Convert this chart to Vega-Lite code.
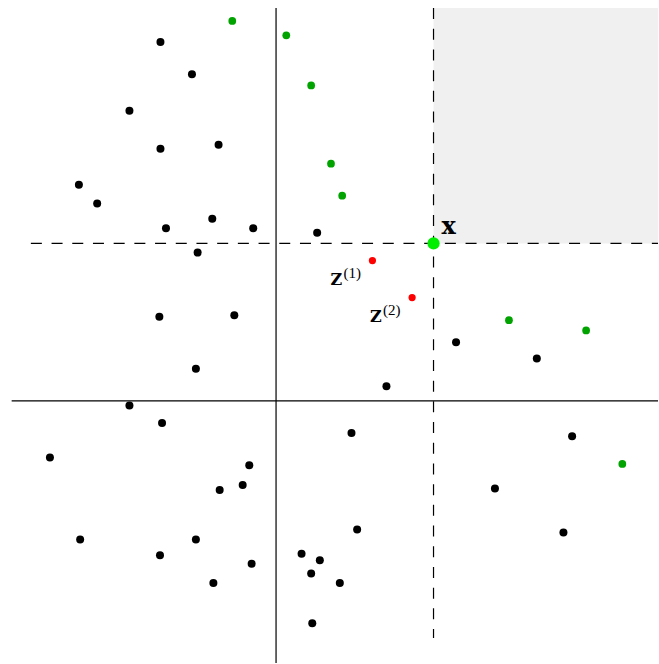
{
  "$schema": "https://vega.github.io/schema/vega-lite/v6.json",
  "autosize": {"type": "fit", "contains": "padding"},
  "width": 659,
  "height": 664,
  "padding": 0,
  "background": "white",
  "config": {"view": {"stroke": null}},
  "datasets": {
    "pts": [
      {"u": -0.734, "v": 2.280, "g": "other"},
      {"u": -0.534, "v": 2.075, "g": "other"},
      {"u": -0.931, "v": 1.842, "g": "other"},
      {"u": -0.734, "v": 1.601, "g": "other"},
      {"u": -0.365, "v": 1.626, "g": "other"},
      {"u": -1.252, "v": 1.373, "g": "other"},
      {"u": -1.136, "v": 1.254, "g": "other"},
      {"u": -0.699, "v": 1.096, "g": "other"},
      {"u": -0.405, "v": 1.157, "g": "other"},
      {"u": -0.145, "v": 1.096, "g": "other"},
      {"u": 0.261, "v": 1.067, "g": "other"},
      {"u": -0.498, "v": 0.942, "g": "other"},
      {"u": -0.741, "v": 0.534, "g": "other"},
      {"u": -0.265, "v": 0.544, "g": "other"},
      {"u": -0.509, "v": 0.204, "g": "other"},
      {"u": -0.931, "v": -0.030, "g": "other"},
      {"u": -0.724, "v": -0.141, "g": "other"},
      {"u": -1.436, "v": -0.360, "g": "other"},
      {"u": -0.170, "v": -0.409, "g": "other"},
      {"u": -0.212, "v": -0.534, "g": "other"},
      {"u": -0.358, "v": -0.566, "g": "other"},
      {"u": -1.244, "v": -0.880, "g": "other"},
      {"u": -0.509, "v": -0.880, "g": "other"},
      {"u": -0.737, "v": -0.980, "g": "other"},
      {"u": -0.155, "v": -1.035, "g": "other"},
      {"u": -0.398, "v": -1.157, "g": "other"},
      {"u": 0.162, "v": -0.971, "g": "other"},
      {"u": 0.278, "v": -1.013, "g": "other"},
      {"u": 0.223, "v": -1.096, "g": "other"},
      {"u": 0.230, "v": -1.413, "g": "other"},
      {"u": 1.143, "v": 0.373, "g": "other"},
      {"u": 1.656, "v": 0.269, "g": "other"},
      {"u": 0.701, "v": 0.092, "g": "other"},
      {"u": 0.479, "v": -0.204, "g": "other"},
      {"u": 1.880, "v": -0.225, "g": "other"},
      {"u": 1.390, "v": -0.557, "g": "other"},
      {"u": 0.515, "v": -0.817, "g": "other"},
      {"u": 1.825, "v": -0.836, "g": "other"},
      {"u": 0.405, "v": -1.157, "g": "other"},
      {"u": -0.278, "v": 2.413, "g": "dominating"},
      {"u": 0.065, "v": 2.322, "g": "dominating"},
      {"u": 0.223, "v": 2.003, "g": "dominating"},
      {"u": 0.349, "v": 1.506, "g": "dominating"},
      {"u": 0.420, "v": 1.303, "g": "dominating"},
      {"u": 1.479, "v": 0.512, "g": "dominating"},
      {"u": 1.969, "v": 0.447, "g": "dominating"},
      {"u": 2.199, "v": -0.401, "g": "dominating"},
      {"u": 0.612, "v": 0.891, "g": "z", "label": "Z", "sup": "(1)"},
      {"u": 0.864, "v": 0.656, "g": "z", "label": "Z", "sup": "(2)"},
      {"u": 1.0, "v": 1.0, "g": "x", "label": "x"}
    ],
    "lines": [
      {"u": 0, "u2": 0, "v": 2.495, "v2": -1.665, "style": "solid"},
      {"u": -1.679, "u2": 2.4255, "v": 0, "v2": 0, "style": "solid"},
      {"u": 1, "u2": 1, "v": 2.495, "v2": -1.506, "style": "dashed"},
      {"u": -1.557, "u2": 2.4255, "v": 1, "v2": 1, "style": "dashed"}
    ],
    "region": [
      {"u": 1, "u2": 2.4255, "v": 1, "v2": 2.495}
    ]
  },
  "encoding": {
    "x": {"field": "u", "type": "quantitative", "axis": null, "scale": {"domain": [-1.753, 2.4255], "nice": false, "zero": false}},
    "y": {"field": "v", "type": "quantitative", "axis": null, "scale": {"domain": [-1.665, 2.546], "nice": false, "zero": false}}
  },
  "layer": [
    {
      "data": {"name": "region"},
      "mark": {"type": "rect", "color": "#f0f0f0"},
      "encoding": {"x2": {"field": "u2"}, "y2": {"field": "v2"}}
    },
    {
      "data": {"name": "lines"},
      "transform": [{"filter": "datum.style === 'solid'"}],
      "mark": {"type": "rule", "color": "#000000", "strokeWidth": 1.2},
      "encoding": {"x2": {"field": "u2"}, "y2": {"field": "v2"}}
    },
    {
      "data": {"name": "lines"},
      "transform": [{"filter": "datum.style === 'dashed'"}],
      "mark": {"type": "rule", "color": "#000000", "strokeWidth": 1.2, "strokeDash": [11, 9.7]},
      "encoding": {"x2": {"field": "u2"}, "y2": {"field": "v2"}}
    },
    {
      "data": {"name": "pts"},
      "transform": [{"filter": "datum.g === 'other'"}],
      "mark": {"type": "circle", "color": "#000000", "opacity": 1, "size": 64}
    },
    {
      "data": {"name": "pts"},
      "transform": [{"filter": "datum.g === 'dominating'"}],
      "mark": {"type": "circle", "color": "#00a300", "opacity": 1, "size": 60}
    },
    {
      "data": {"name": "pts"},
      "transform": [{"filter": "datum.g === 'z'"}],
      "mark": {"type": "circle", "color": "#ff0000", "opacity": 1, "size": 52}
    },
    {
      "data": {"name": "pts"},
      "transform": [{"filter": "datum.g === 'x'"}],
      "mark": {"type": "circle", "color": "#00ee00", "opacity": 1, "size": 150}
    },
    {
      "data": {"name": "pts"},
      "transform": [{"filter": "datum.g === 'x'"}],
      "mark": {"type": "text", "font": "DejaVu Serif", "fontWeight": "bold", "fontSize": 24, "align": "left", "baseline": "alphabetic", "dx": 8, "dy": -9, "color": "#000000"},
      "encoding": {"text": {"field": "label"}}
    },
    {
      "data": {"name": "pts"},
      "transform": [{"filter": "datum.g === 'z'"}],
      "mark": {"type": "text", "font": "DejaVu Serif", "fontWeight": "bold", "fontSize": 16, "align": "left", "baseline": "alphabetic", "dx": -42, "dy": 24.5, "color": "#000000"},
      "encoding": {"text": {"field": "label"}}
    },
    {
      "data": {"name": "pts"},
      "transform": [{"filter": "datum.g === 'z'"}],
      "mark": {"type": "text", "font": "Liberation Serif", "fontSize": 15, "align": "left", "baseline": "alphabetic", "dx": -29, "dy": 17.5, "color": "#000000"},
      "encoding": {"text": {"field": "sup"}}
    }
  ]
}
